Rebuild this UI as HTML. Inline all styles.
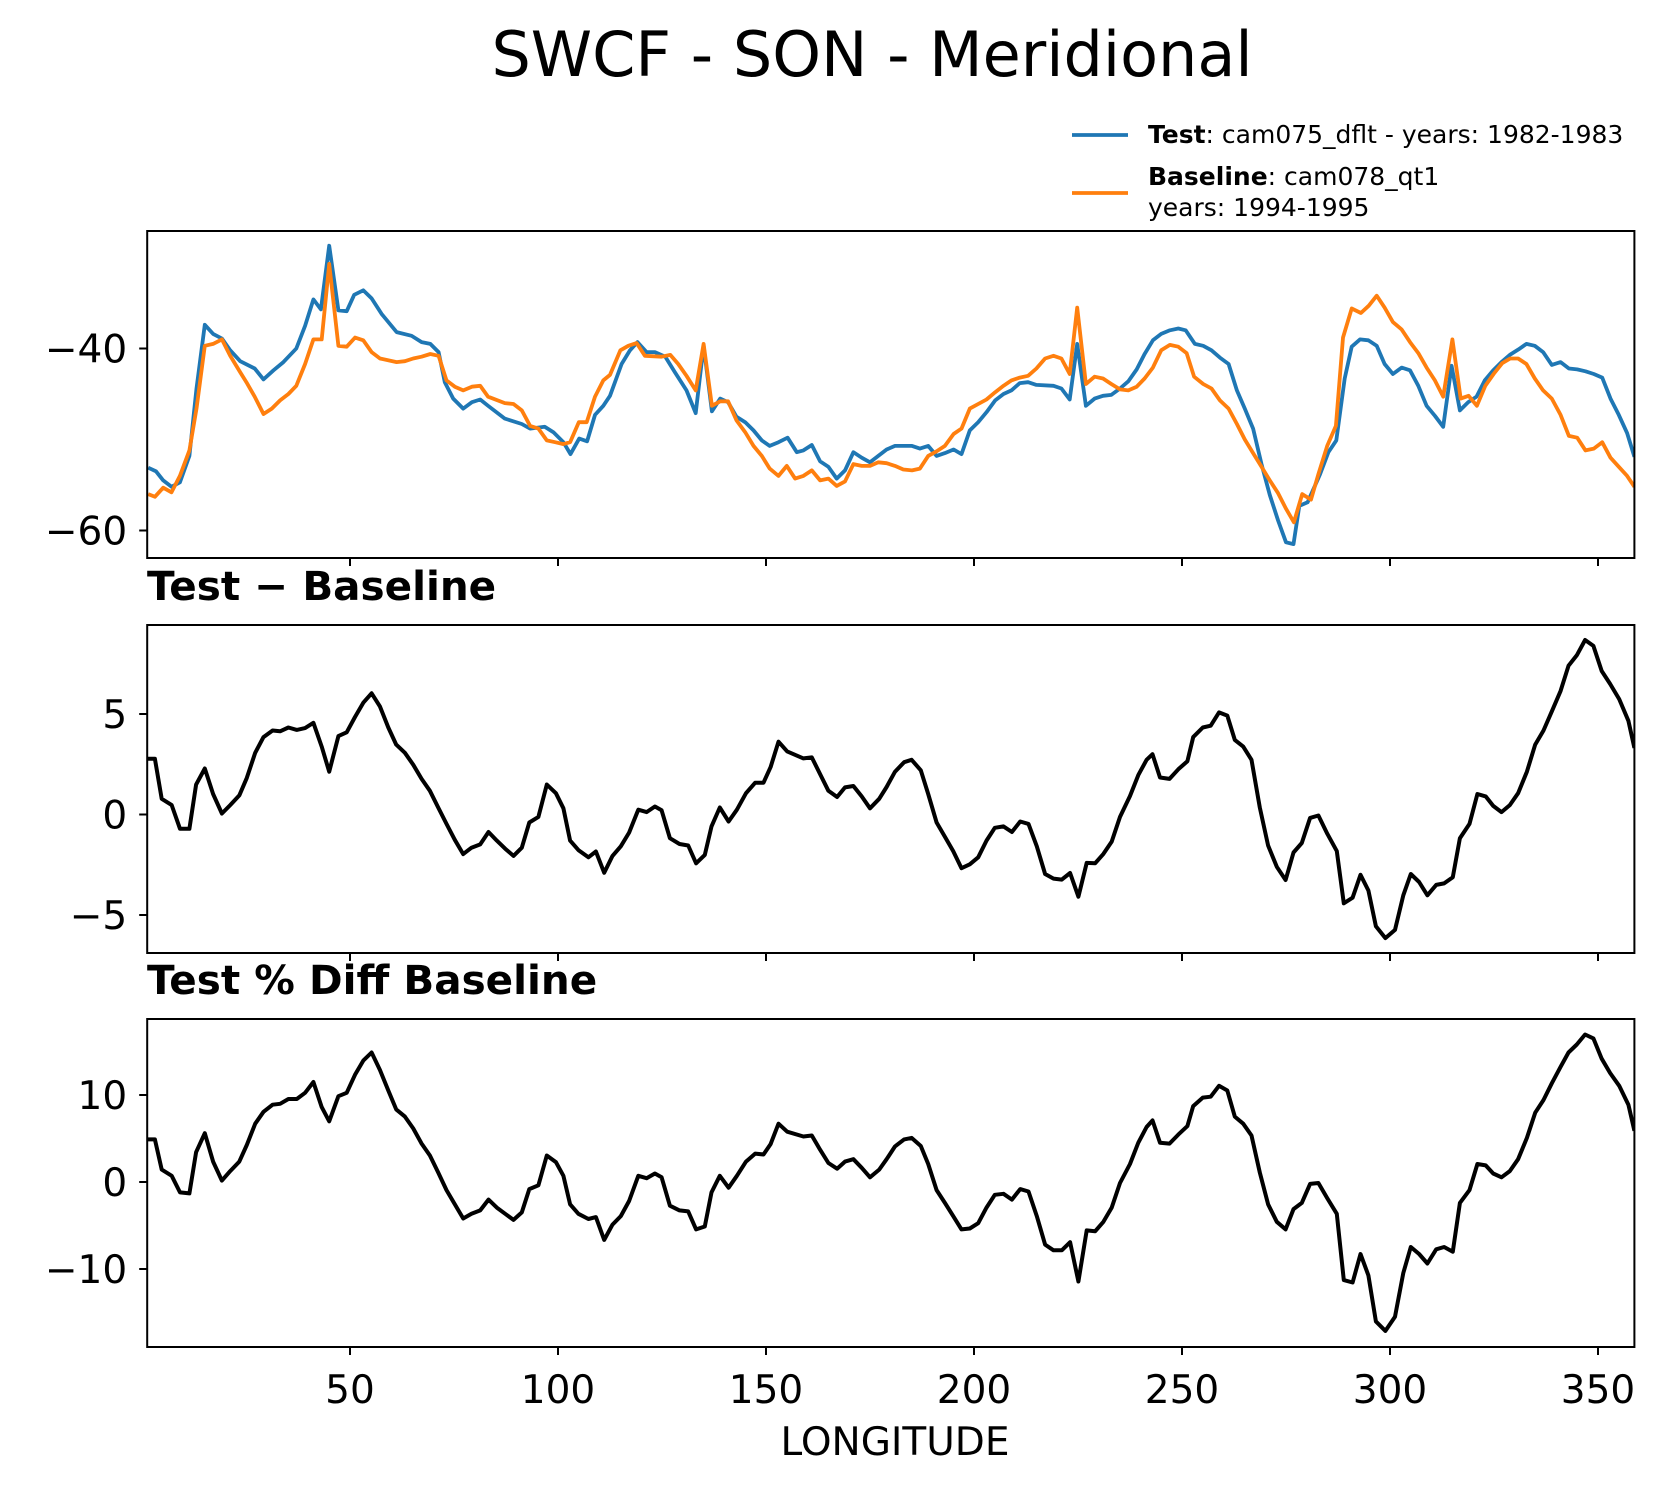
<!DOCTYPE html>
<html><head><meta charset="utf-8"><style>
html,body{margin:0;padding:0;background:#fff;}
svg{display:block;font-family:"DejaVu Sans","Liberation Sans",sans-serif;}
</style></head><body>
<svg id="chart" width="1667" height="1496" viewBox="0 0 1667 1496" xmlns="http://www.w3.org/2000/svg">
<text x="872" y="76" font-size="62" text-anchor="middle" fill="#000">SWCF - SON - Meridional</text>
<g>
<line x1="1072" y1="135" x2="1128" y2="135" stroke="#1f77b4" stroke-width="3.8"/>
<text x="1148" y="143" font-size="25" fill="#000"><tspan font-weight="bold">Test</tspan>: cam075_dflt - years: 1982-1983</text>
<line x1="1072" y1="193" x2="1128" y2="193" stroke="#ff7f0e" stroke-width="3.8"/>
<text x="1148" y="185" font-size="25" fill="#000"><tspan font-weight="bold">Baseline</tspan>: cam078_qt1</text>
<text x="1148" y="216" font-size="25" fill="#000">years: 1994-1995</text>
</g>
<text x="147" y="600" font-size="40.5" font-weight="bold" fill="#000">Test − Baseline</text>
<text x="147" y="994" font-size="40.5" font-weight="bold" fill="#000">Test % Diff Baseline</text>
<text x="895" y="1455" font-size="39" text-anchor="middle" fill="#000">LONGITUDE</text>
</svg>
<script>
// ---- data ----
const testLon = [1.5,3.4,5.1,7.1,9.1,11.4,13.1,15.1,17.1,19.2,21.2,23.6,27.1,29.2,31.6,34.0,37.1,39.2,41.2,43.0,45.0,47.2,49.2,51.0,53.2,55.2,57.6,61.2,64.8,67.2,69.3,71.3,72.8,74.8,77.2,79.3,81.3,83.2,87.2,91.3,93.3,96.8,98.9,101.3,103.0,105.1,107.0,108.9,110.9,112.5,115.3,117.3,119.1,121.3,123.3,125.8,128.1,130.9,133.1,135.0,137.0,139.0,140.9,142.9,145.0,147.0,149.0,150.9,153.0,155.2,157.4,159.0,161.0,163.0,165.0,167.0,169.0,171.0,173.0,175.0,177.0,179.0,181.0,185.1,187.0,189.0,191.0,193.0,195.1,197.0,199.0,201.0,203.0,205.1,207.1,209.0,211.0,213.0,215.0,219.1,221.0,223.0,224.8,226.9,229.0,231.0,233.0,235.1,237.1,239.1,241.0,243.0,245.0,247.1,249.1,250.9,253.1,255.1,257.1,259.1,261.2,263.2,265.1,267.1,269.1,271.1,273.1,275.0,276.8,278.2,280.2,283.2,285.2,287.1,289.1,290.8,292.8,294.8,296.8,298.7,300.7,302.8,304.8,306.8,308.8,310.8,312.8,314.8,316.8,318.8,320.8,322.8,324.8,326.8,328.8,330.9,332.8,334.8,336.8,338.9,341,343,345,347,349,351,353,355,357,358.75];
const testVal = [-53.1,-53.5,-54.5,-55.2,-54.7,-51.8,-44.4,-37.4,-38.4,-38.9,-40.2,-41.4,-42.2,-43.4,-42.4,-41.5,-40.0,-37.5,-34.6,-35.7,-28.7,-35.8,-35.9,-34.1,-33.6,-34.5,-36.2,-38.2,-38.6,-39.3,-39.5,-40.4,-43.7,-45.5,-46.6,-45.9,-45.6,-46.3,-47.7,-48.3,-48.8,-48.6,-49.2,-50.3,-51.6,-49.9,-50.2,-47.3,-46.3,-45.2,-41.7,-40.2,-39.3,-40.4,-40.4,-40.9,-42.6,-44.6,-47.1,-39.7,-46.9,-45.5,-45.9,-47.5,-48.1,-49.0,-50.1,-50.7,-50.3,-49.8,-51.4,-51.2,-50.6,-52.4,-53.0,-54.3,-53.4,-51.4,-52.0,-52.5,-51.8,-51.1,-50.7,-50.7,-51.0,-50.7,-51.8,-51.5,-51.1,-51.6,-49.0,-48.1,-47.0,-45.7,-45.0,-44.6,-43.8,-43.7,-44.0,-44.1,-44.4,-45.6,-39.5,-46.3,-45.5,-45.2,-45.1,-44.4,-43.6,-42.3,-40.6,-39.1,-38.4,-38.0,-37.8,-38.0,-39.5,-39.7,-40.2,-41.0,-41.7,-44.6,-46.6,-48.8,-52.7,-56.1,-58.9,-61.3,-61.5,-57.3,-56.9,-53.8,-51.4,-50.1,-43.3,-39.8,-39.0,-39.1,-39.7,-41.7,-42.8,-42.1,-42.4,-44.1,-46.3,-47.4,-48.6,-41.9,-46.8,-45.9,-45.3,-43.5,-42.4,-41.5,-40.7,-40.1,-39.5,-39.7,-40.4,-41.8,-41.5,-42.2,-42.3,-42.5,-42.8,-43.2,-45.5,-47.3,-49.3,-51.9];
const baseLon = [1.5,3.1,5.1,7.1,9.1,11.4,13.1,15.1,17.1,19.2,21.2,23.6,25.1,27.1,29.2,31.2,33.2,35.2,37.1,39.2,41.2,43.2,45.0,47.2,49.2,51.2,53.2,55.2,57.2,61.2,63.2,65.2,67.2,69.3,71.3,73.2,75.2,77.2,79.3,81.3,83.2,87.2,89.3,91.3,93.3,95.3,97.3,99.3,101.3,102.9,105.0,106.9,108.9,110.9,112.5,115.0,116.9,118.9,120.9,124.9,127.0,128.9,130.9,133.1,135.0,137.0,139.0,140.9,142.9,145.0,147.0,149.0,150.9,153.0,155.0,157.0,159.0,161.0,163.0,165.0,167.0,169.0,171.0,173.0,175.0,177.0,179.0,181.0,183.0,185.1,187.0,189.0,191.0,193.0,195.1,197.0,199.0,201.0,203.0,205.1,207.1,209.0,211.0,213.0,215.0,217.1,219.1,221.0,223.0,224.8,226.9,229.0,231.0,233.0,235.1,237.1,239.1,241.0,243.0,245.0,247.1,249.1,251.1,252.9,255.1,257.1,259.1,261.2,263.2,265.1,267.1,269.1,271.1,273.1,275.0,276.9,278.9,281.0,282.8,284.9,287.0,288.7,290.8,293.0,294.9,296.8,298.7,300.7,302.8,304.8,306.8,308.8,310.8,312.8,315.0,317.0,318.9,320.9,322.9,324.9,327.0,328.9,330.8,332.8,334.8,336.8,338.9,341,343,345,347,349,351,353,355,357,358.75];
const baseVal = [-56.0,-56.3,-55.3,-55.8,-54.0,-51.2,-46.6,-39.7,-39.5,-39.0,-40.8,-42.6,-43.7,-45.3,-47.2,-46.6,-45.7,-45.0,-44.1,-41.7,-39.0,-39.0,-30.7,-39.7,-39.8,-38.8,-39.1,-40.4,-41.1,-41.5,-41.4,-41.1,-40.9,-40.6,-40.8,-43.5,-44.2,-44.6,-44.2,-44.1,-45.3,-46.0,-46.1,-46.8,-48.5,-48.8,-50.1,-50.3,-50.5,-50.3,-48.1,-48.1,-45.3,-43.5,-42.9,-40.2,-39.7,-39.4,-40.8,-40.9,-40.7,-41.7,-43.0,-44.6,-39.5,-46.3,-45.8,-45.8,-47.9,-49.2,-50.7,-51.8,-53.2,-54.0,-52.9,-54.3,-54.0,-53.4,-54.5,-54.3,-55.1,-54.6,-52.7,-52.9,-52.9,-52.5,-52.6,-52.9,-53.3,-53.4,-53.2,-51.8,-51.3,-50.7,-49.4,-48.8,-46.6,-46.1,-45.6,-44.8,-44.1,-43.5,-43.2,-43.0,-42.2,-41.1,-40.8,-41.1,-42.8,-35.5,-43.9,-43.1,-43.3,-43.9,-44.5,-44.6,-44.2,-43.3,-42.1,-40.2,-39.6,-39.8,-40.5,-43.1,-43.9,-44.4,-45.7,-46.6,-48.3,-50.0,-51.5,-53.0,-54.5,-55.9,-57.6,-59.1,-56.0,-56.6,-53.8,-50.7,-48.5,-38.8,-35.6,-36.1,-35.3,-34.2,-35.5,-37.1,-37.9,-39.3,-40.5,-42.1,-43.5,-45.3,-39.0,-45.5,-45.2,-46.3,-44.1,-42.8,-41.6,-41.1,-41.1,-41.7,-43.3,-44.6,-45.5,-47.3,-49.6,-49.8,-51.2,-51.0,-50.3,-52.0,-53.0,-54.0,-55.2];
const diffLon = [1.28,3.1,4.73,7.13,9.14,11.4,13.0,15.1,17.1,19.2,21.2,23.4,25.2,27.2,29.2,31.4,33.2,35.2,37.2,39.2,41.2,43.2,45.0,47.2,49.2,51.2,53.2,55.2,57.2,59.2,61.1,63.2,65.2,67.2,69.2,71.2,73.2,75.2,77.2,79.2,81.3,83.3,85.3,87.3,89.3,91.3,93.1,95.3,97.3,99.5,101.3,102.9,104.9,107.3,109.1,111.1,113.1,115.1,117.1,119.3,121.3,123.3,124.9,126.9,129.2,131.3,133.2,135.3,136.9,138.9,141.0,143.0,145.2,147.4,149.4,151.1,153.0,155.1,159.0,161.0,163.0,165.0,167.1,169.0,171.0,173.0,175.0,177.2,179.0,181.0,183.2,185.0,187.2,189.0,191.0,193.0,195.0,197.0,199.0,201.0,203.0,205.0,207.1,209.1,211.1,213.1,215.1,217.1,219.1,221.1,223.1,225.1,227.1,229.1,231.1,233.1,235.1,237.5,239.5,241.5,242.9,244.7,247.0,249.1,251.3,252.7,255.0,256.9,258.9,260.9,262.7,264.7,266.7,268.7,270.7,272.8,274.9,276.8,278.8,280.8,282.8,284.9,287.2,288.9,291.0,292.9,294.8,296.6,298.9,301.2,303.2,305.0,307.0,309.0,311.1,313.0,315.1,316.8,319.1,321.0,323.0,324.8,326.8,328.8,330.8,332.9,334.9,336.9,338.9,341.0,342.9,344.9,346.9,348.9,350.9,352.9,355.1,357.3,358.75];
const diffVal = [2.77,2.77,0.78,0.47,-0.71,-0.71,1.49,2.29,1.02,0.05,0.47,0.95,1.82,3.07,3.85,4.18,4.14,4.33,4.21,4.30,4.56,3.38,2.13,3.90,4.09,4.85,5.56,6.03,5.37,4.33,3.48,3.07,2.48,1.77,1.18,0.35,-0.47,-1.26,-1.97,-1.65,-1.49,-0.87,-1.30,-1.70,-2.06,-1.65,-0.40,-0.12,1.49,1.06,0.31,-1.30,-1.77,-2.13,-1.84,-2.90,-2.06,-1.58,-0.90,0.24,0.12,0.40,0.21,-1.18,-1.47,-1.54,-2.43,-2.01,-0.59,0.35,-0.35,0.24,1.06,1.58,1.58,2.36,3.62,3.14,2.79,2.84,2.01,1.18,0.87,1.35,1.42,0.90,0.31,0.78,1.37,2.13,2.60,2.72,2.20,1.02,-0.40,-1.11,-1.82,-2.67,-2.48,-2.13,-1.30,-0.66,-0.59,-0.87,-0.35,-0.47,-1.58,-2.96,-3.19,-3.24,-2.91,-4.09,-2.41,-2.43,-1.96,-1.35,-0.12,0.92,1.96,2.72,3.00,1.84,1.77,2.25,2.65,3.85,4.33,4.42,5.08,4.92,3.71,3.38,2.72,0.35,-1.54,-2.60,-3.26,-1.89,-1.42,-0.17,-0.05,-0.95,-1.82,-4.42,-4.14,-3.00,-3.78,-5.56,-6.15,-5.74,-4.02,-2.96,-3.36,-4.02,-3.50,-3.43,-3.12,-1.18,-0.47,1.02,0.90,0.43,0.12,0.47,1.06,2.13,3.48,4.18,5.13,6.15,7.40,7.92,8.68,8.39,7.14,6.50,5.74,4.66,3.31];
const pctVal = [4.90,4.90,1.42,0.71,-1.20,-1.31,3.43,5.61,2.34,0.16,1.25,2.34,4.25,6.70,8.07,8.88,8.99,9.54,9.54,10.25,11.50,8.61,6.98,9.86,10.25,12.32,13.95,14.88,12.86,10.52,8.34,7.52,6.16,4.41,3.05,1.09,-0.93,-2.56,-4.20,-3.65,-3.27,-2.02,-2.94,-3.65,-4.36,-3.49,-0.82,-0.38,3.05,2.29,0.71,-2.56,-3.65,-4.25,-4.03,-6.65,-4.90,-3.92,-2.18,0.71,0.44,0.98,0.54,-2.72,-3.27,-3.38,-5.45,-5.12,-1.20,0.71,-0.65,0.71,2.34,3.27,3.16,4.36,6.70,5.78,5.23,5.34,3.71,2.18,1.53,2.34,2.62,1.63,0.54,1.42,2.62,4.09,4.90,5.07,4.14,2.07,-0.93,-2.40,-3.92,-5.45,-5.34,-4.74,-2.94,-1.47,-1.36,-2.02,-0.82,-1.09,-3.92,-7.19,-7.85,-7.85,-6.92,-11.44,-5.56,-5.67,-4.58,-2.94,-0.11,2.07,4.52,6.32,7.08,4.52,4.41,5.45,6.43,8.72,9.70,9.81,11.06,10.52,7.52,6.70,5.34,1.09,-2.56,-4.58,-5.45,-3.11,-2.40,-0.22,-0.11,-1.85,-3.65,-11.28,-11.55,-8.28,-10.74,-16.02,-17.11,-15.48,-10.46,-7.47,-8.28,-9.37,-7.74,-7.47,-8.01,-2.40,-0.93,2.07,1.91,0.98,0.54,1.25,2.62,5.07,7.96,9.43,11.34,13.24,14.88,15.80,16.95,16.51,14.17,12.53,11.06,8.88,5.89];
const xTicks = [50,100,150,200,250,300,350];
const p1Ticks = [-40,-60];
const p2Ticks = [5,0,-5];
const p3Ticks = [10,0,-10];

// ---- layout ----
const NS = "http://www.w3.org/2000/svg";
const svg = document.getElementById('chart');
const X0 = 147.2, X1 = 1634.4, LON0 = 1.25, LON1 = 358.75;
function xs(l){ return X0 + (l - LON0) * (X1 - X0) / (LON1 - LON0); }
function mk(tag, attrs, parent){ const e = document.createElementNS(NS, tag); for (const k in attrs) e.setAttribute(k, attrs[k]); (parent||svg).appendChild(e); return e; }
const panels = [
  {name:'mean-panel', top:231, bot:558, v0:-40, y0:348.5, v1:-60, y1:530.5, ticks:p1Ticks, labels:false},
  {name:'diff-panel', top:625, bot:953, v0:5, y0:714, v1:-5, y1:915, ticks:p2Ticks, labels:false},
  {name:'pct-panel', top:1019, bot:1347, v0:10, y0:1095, v1:-10, y1:1269, ticks:p3Ticks, labels:true}
];
function ysF(p){ return v => p.y0 + (v - p.v0) * (p.y1 - p.y0) / (p.v1 - p.v0); }
function fmt(v){ return v < 0 ? '\u2212' + Math.abs(v) : String(v); }
function line(lons, vals, p, color, w, name){
  const ys = ysF(p);
  let d = '';
  for (let i = 0; i < lons.length; i++) d += (i ? 'L' : 'M') + xs(lons[i]).toFixed(1) + ' ' + ys(vals[i]).toFixed(1);
  const el = mk('path', {d:d, fill:'none', stroke:color, 'stroke-width':w, 'stroke-linejoin':'round', 'clip-path':'url(#clip-' + p.name + ')'});
  
  
}
const defs = mk('defs', {});
panels.forEach(p => {
  const cp = mk('clipPath', {id:'clip-' + p.name}, defs);
  mk('rect', {x:X0, y:p.top, width:X1 - X0, height:p.bot - p.top}, cp);
  const ys = ysF(p);
  const g = mk('g', {});
  
  
  p.ticks.forEach(t => {
    const y = ys(t);
    const tk = mk('line', {x1:X0 - 8, y1:y, x2:X0, y2:y, stroke:'#000', 'stroke-width':2}, g);
    
    
    const tl = mk('text', {x:X0 - 20, y:y + 14, 'font-size':39, 'text-anchor':'end', fill:'#000'}, g);
    tl.textContent = fmt(t);
    
    
  });
  xTicks.forEach(t => {
    const x = xs(t);
    const tk = mk('line', {x1:x, y1:p.bot, x2:x, y2:p.bot + 8, stroke:'#000', 'stroke-width':2}, g);
    
    
    if (p.labels) {
      const tl = mk('text', {x:x, y:p.bot + 56, 'font-size':39, 'text-anchor':'middle', fill:'#000'}, g);
      tl.textContent = String(t);
      
      
    }
  });
});
line(testLon, testVal, panels[0], '#1f77b4', 3.8, 'test-line');
line(baseLon, baseVal, panels[0], '#ff7f0e', 3.8, 'baseline-line');
line(diffLon, diffVal, panels[1], '#000', 4, 'diff-line');
line(diffLon, pctVal, panels[2], '#000', 4, 'pct-diff-line');
panels.forEach(p => {
  const fr = mk('rect', {x:X0, y:p.top, width:X1 - X0, height:p.bot - p.top, fill:'none', stroke:'#000', 'stroke-width':2});
  
  
});
</script>
</body></html>
